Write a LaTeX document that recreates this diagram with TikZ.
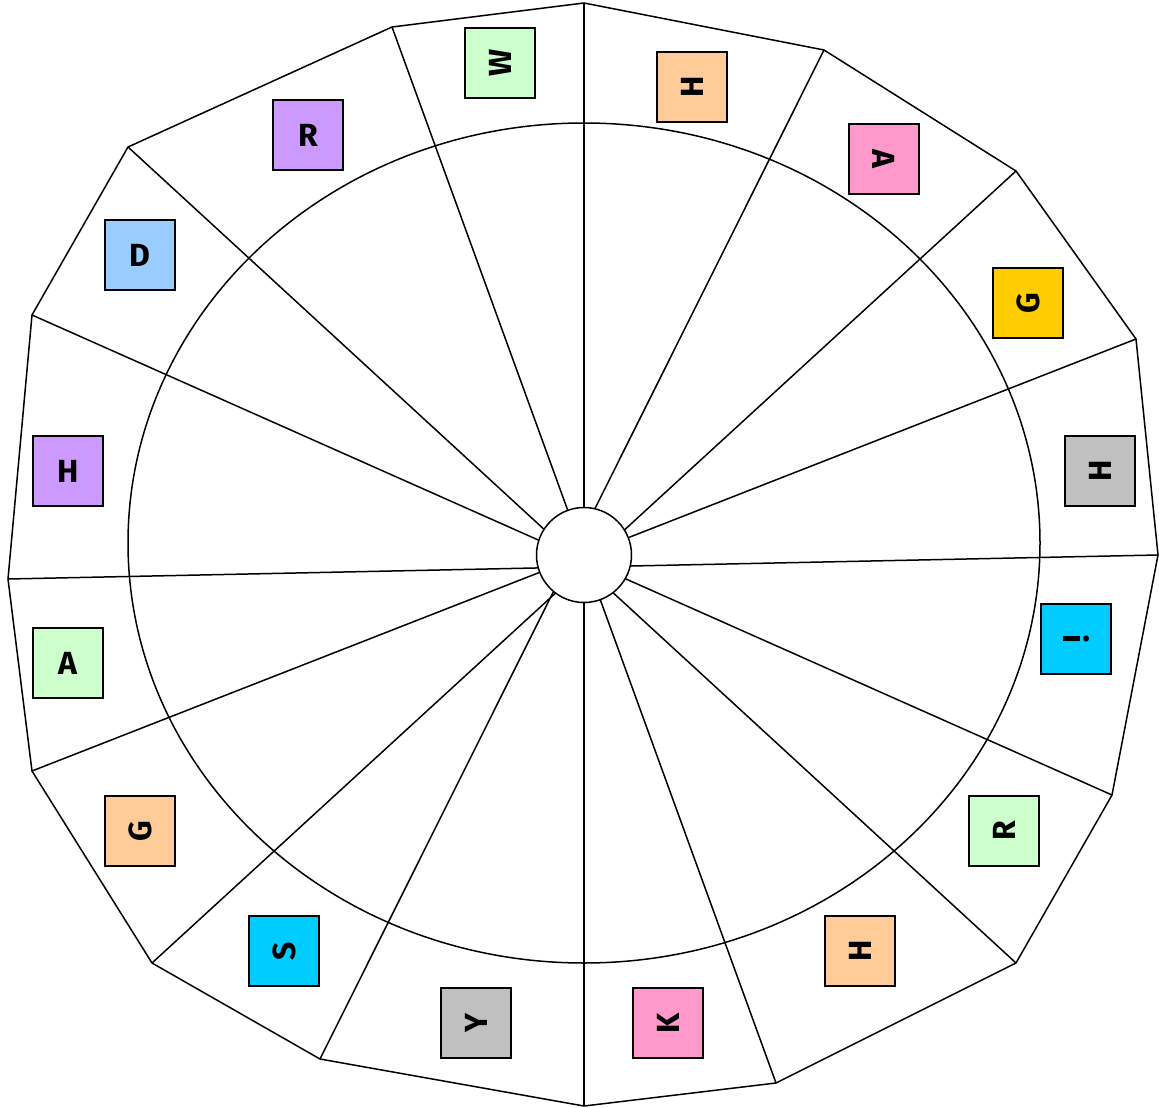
\documentclass[tikz,border=0pt]{standalone}
\usepackage{fontspec}
\setsansfont{Fira Sans}
\usetikzlibrary{positioning}
\definecolor{mintgreen}{RGB}{204,255,204}
\definecolor{peach}{RGB}{255,204,153}
\definecolor{rosepink}{RGB}{255,153,204}
\definecolor{goldyellow}{RGB}{255,204,0}
\definecolor{silvergray}{RGB}{192,192,192}
\definecolor{skycyan}{RGB}{0,204,255}
\definecolor{lilac}{RGB}{204,153,255}
\definecolor{paleblue}{RGB}{153,204,255}

\begin{document}
\begin{tikzpicture}[x=1pt, y=-1pt, line width=1.5pt,
    letterbox/.style={draw, line width=1.4pt, minimum size=70pt, inner sep=0pt,
        font=\fontsize{32}{32}\selectfont\sffamily\bfseries}]
    \useasboundingbox (0,0) rectangle (1159,1108);
    % Ecken des Sechzehnecks
    \coordinate (p0) at (584,3);
    \coordinate (p1) at (824,50);
    \coordinate (p2) at (1016,171);
    \coordinate (p3) at (1136,339);
    \coordinate (p4) at (1158,555);
    \coordinate (p5) at (1112,795);
    \coordinate (p6) at (1016,963);
    \coordinate (p7) at (776,1083);
    \coordinate (p8) at (584,1106);
    \coordinate (p9) at (320,1059);
    \coordinate (p10) at (152,963);
    \coordinate (p11) at (32,771);
    \coordinate (p12) at (8,579);
    \coordinate (p13) at (32,315);
    \coordinate (p14) at (128,147);
    \coordinate (p15) at (392,27);
    % Speichen zwischen gegenueberliegenden Ecken
    \foreach \i [evaluate=\i as \j using int(\i+8)] in {0,...,7}
        \draw (p\i) -- (p\j);
    \draw (p0) -- (p1) -- (p2) -- (p3) -- (p4) -- (p5) -- (p6) -- (p7) -- (p8)
        -- (p9) -- (p10) -- (p11) -- (p12) -- (p13) -- (p14) -- (p15) -- cycle;
    % innerer Ring und Nabe
    \draw (584,543) ellipse [x radius=456, y radius=420];
    \node[circle, draw, fill=white, minimum size=95pt, inner sep=0pt] (hub) at (584,555) {};
    % Buchstabenfelder
    \node[letterbox, fill=mintgreen] (w) at (500,63) {\rotatebox{90}{W}};
    \node[letterbox, fill=peach] (h1) at (692,87) {\rotatebox{90}{H}};
    \node[letterbox, fill=rosepink] (a1) at (884,159) {\rotatebox{-90}{A}};
    \node[letterbox, fill=goldyellow] (g1) at (1028,303) {\rotatebox{90}{G}};
    \node[letterbox, fill=silvergray] (h2) at (1100,471) {\rotatebox{90}{H}};
    \node[letterbox, fill=skycyan] (i) at (1076,639) {\rotatebox{-90}{i}};
    \node[letterbox, fill=mintgreen] (r1) at (1004,831) {\rotatebox{90}{R}};
    \node[letterbox, fill=peach] (h3) at (860,951) {\rotatebox{90}{H}};
    \node[letterbox, fill=rosepink] (k) at (668,1023) {\rotatebox{90}{K}};
    \node[letterbox, fill=silvergray] (y) at (476,1023) {\rotatebox{90}{Y}};
    \node[letterbox, fill=skycyan] (s) at (284,951) {\rotatebox{90}{S}};
    \node[letterbox, fill=peach] (g2) at (140,831) {\rotatebox{90}{G}};
    \node[letterbox, fill=mintgreen] (a2) at (68,663) {A};
    \node[letterbox, fill=lilac] (h4) at (68,471) {H};
    \node[letterbox, fill=paleblue] (d) at (140,255) {D};
    \node[letterbox, fill=lilac] (r2) at (308,135) {R};
\end{tikzpicture}
\end{document}
